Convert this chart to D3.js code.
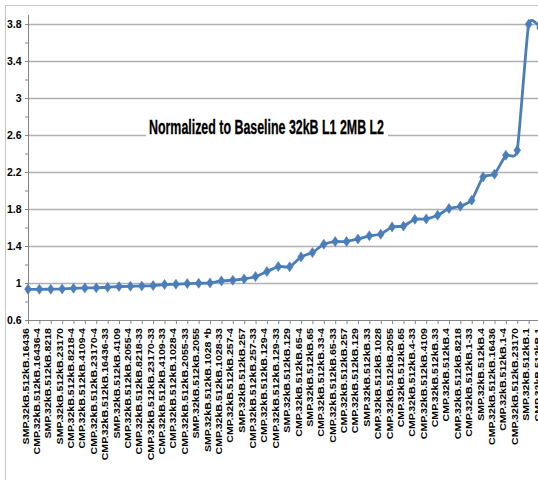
<!DOCTYPE html>
<html>
<head>
<meta charset="utf-8">
<script src="https://cdn.jsdelivr.net/npm/d3@7/dist/d3.min.js"></script>
<style>
  html, body { margin: 0; padding: 0; background: #fff; }
  svg { display: block; }
  text { font-family: "Liberation Sans", Arial, sans-serif; font-weight: bold; fill: #000; }
</style>
</head>
<body>
<svg id="chart" width="538" height="480"></svg>
<script>
// Configurations, sorted by normalized value
const categories = [
  "SMP.32kB.512kB.16436", "CMP.32kB.512kB.16436-4", "SMP.32kB.512kB.8218", "SMP.32kB.512kB.23170",
  "CMP.32kB.512kB.8218-4", "CMP.32kB.512kB.4109-4", "CMP.32kB.512kB.23170-4", "CMP.32kB.512kB.16436-33",
  "SMP.32kB.512kB.4109", "CMP.32kB.512kB.2055-4", "CMP.32kB.512kB.8218-33", "CMP.32kB.512kB.23170-33",
  "CMP.32kB.512kB.4109-33", "CMP.32kB.512kB.1028-4", "CMP.32kB.512kB.2055-33", "SMP.32kB.512kB.2055",
  "SMP.32kB.512kB.1028 *b", "CMP.32kB.512kB.1028-33", "CMP.32kB.512kB.257-4", "SMP.32kB.512kB.257",
  "CMP.32kB.512kB.257-33", "CMP.32kB.512kB.129-4", "CMP.32kB.512kB.129-33", "SMP.32kB.512kB.129",
  "CMP.32kB.512kB.65-4", "SMP.32kB.512kB.65", "CMP.32kB.512kB.33-4", "CMP.32kB.512kB.65-33",
  "CMP.32kB.512kB.257", "CMP.32kB.512kB.129", "SMP.32kB.512kB.33", "CMP.32kB.512kB.1028",
  "CMP.32kB.512kB.2055", "CMP.32kB.512kB.65", "CMP.32kB.512kB.4-33", "CMP.32kB.512kB.4109",
  "CMP.32kB.512kB.33", "CMP.32kB.512kB.4", "CMP.32kB.512kB.8218", "CMP.32kB.512kB.1-33",
  "SMP.32kB.512kB.4", "CMP.32kB.512kB.16436", "CMP.32kB.512kB.1-4", "CMP.32kB.512kB.23170",
  "SMP.32kB.512kB.1", "CMP.32kB.512kB.1"
];

// Normalized to baseline (32kB L1, 2MB L2)
const values = [
  0.932, 0.932, 0.933, 0.936, 0.943, 0.947, 0.948, 0.954,
  0.962, 0.965, 0.968, 0.972, 0.983, 0.986, 0.994, 0.997,
  1.001, 1.022, 1.030, 1.044, 1.070, 1.124, 1.178, 1.175,
  1.282, 1.329, 1.419, 1.448, 1.448, 1.476, 1.510, 1.527,
  1.606, 1.615, 1.689, 1.692, 1.732, 1.805, 1.830, 1.895,
  2.147, 2.176, 2.381, 2.435, 3.797, 3.760
];

const yTickLabels = ["0.6", "1", "1.4", "1.8", "2.2", "2.6", "3", "3.4", "3.8"];
const yMinorTicks = [0.8, 1.2, 1.6, 2.0, 2.4, 2.8, 3.2, 3.6];
const chartTitle = "Normalized to Baseline 32kB L1 2MB L2";

const svg = d3.select("#chart");
const W = 538;
const plotLeft = 28, plotRight = 540, plotTop = 14.75, plotBottom = 320;

const x = d3.scalePoint().domain(categories).range([plotLeft, plotRight]).padding(0);
const y = d3.scaleLinear().domain([0.6, 3.9]).range([plotBottom, plotTop]);
const yTicks = yTickLabels.map(Number);

// outer frame
svg.append("rect")
  .attr("x", 5.5).attr("y", 5.5).attr("width", 700).attr("height", 700)
  .attr("fill", "#fff").attr("stroke", "#c6c6c6").attr("stroke-width", 1);

// horizontal gridlines
svg.append("g")
  .attr("transform", `translate(${plotLeft},0)`)
  .call(d3.axisLeft(y).tickValues(yTicks.slice(1)).tickSize(-(W - plotLeft)).tickFormat(""))
  .call(g => g.select(".domain").remove())
  .call(g => g.selectAll("line").attr("stroke", "#b0b0b0").attr("stroke-width", 1.5));

// title with its own white backing
const titleG = svg.append("g");
titleG.append("rect")
  .attr("x", 146).attr("y", 114).attr("width", 242).attr("height", 26)
  .attr("fill", "#fff");
titleG.append("text")
  .attr("x", 149).attr("y", 134)
  .attr("font-size", 19.5)
  .attr("stroke", "#000").attr("stroke-width", 0.3)
  .attr("textLength", 235).attr("lengthAdjust", "spacingAndGlyphs")
  .text(chartTitle);

// y axis: major ticks with labels, minor ticks
const yAxisG = svg.append("g")
  .attr("transform", `translate(${plotLeft},0)`)
  .call(d3.axisLeft(y).tickValues(yTicks).tickSize(3).tickPadding(3)
    .tickFormat((d, i) => yTickLabels[i]));
yAxisG.select(".domain").attr("stroke", "#868686").attr("d", `M0.5,${plotTop}V${plotBottom}`);
yAxisG.selectAll(".tick line").attr("stroke", "#868686");
yAxisG.selectAll(".tick text")
  .attr("font-size", 10.5)
  .attr("font-family", "'Liberation Sans', Arial, sans-serif")
  .attr("x", -6.5);

svg.append("g")
  .attr("transform", `translate(${plotLeft},0)`)
  .call(d3.axisLeft(y).tickValues(yMinorTicks).tickSize(3).tickFormat(""))
  .call(g => g.select(".domain").remove())
  .call(g => g.selectAll("line").attr("stroke", "#868686"));

// x axis with rotated category labels
const xAxisG = svg.append("g")
  .attr("transform", `translate(0,${plotBottom})`)
  .call(d3.axisBottom(x).tickSize(4));
xAxisG.select(".domain").attr("stroke", "#868686").attr("d", `M${plotLeft},0.5H${W + 10}`);
xAxisG.selectAll(".tick line").attr("stroke", "#868686");
xAxisG.selectAll(".tick text")
  .attr("font-size", 10.6)
  .attr("text-anchor", "end")
  .attr("transform", "rotate(-90) scale(1,0.82)")
  .attr("x", -8).attr("y", 0).attr("dy", 0);

// smoothed series line
const line = d3.line()
  .x((d, i) => x(categories[i]))
  .y(d => y(d))
  .curve(d3.curveCardinal.tension(0.5));

const color = "#4a7ebb";
svg.append("path")
  .datum(values)
  .attr("fill", "none")
  .attr("stroke", color)
  .attr("stroke-width", 2.8)
  .attr("stroke-linejoin", "round")
  .attr("d", line);

// diamond markers
svg.append("g").selectAll("path")
  .data(values)
  .join("path")
  .attr("transform", (d, i) => `translate(${x(categories[i])},${y(d)})`)
  .attr("d", "M0,-5L3.4,0L0,5L-3.4,0Z")
  .attr("fill", color)
  .attr("stroke", color)
  .attr("stroke-width", 0.6);
</script>
</body>
</html>
